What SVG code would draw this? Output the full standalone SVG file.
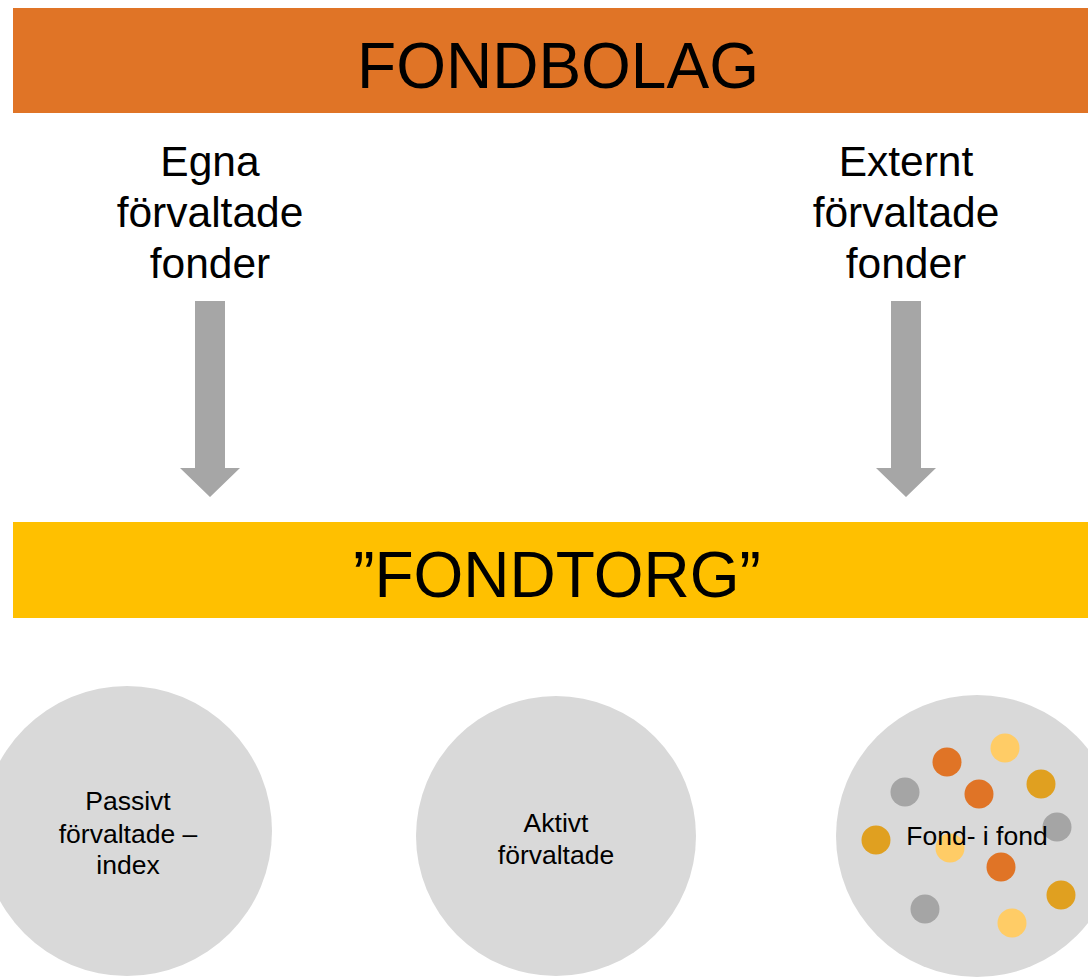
<svg xmlns="http://www.w3.org/2000/svg" width="1088" height="977" viewBox="0 0 1088 977">
<style>
text{font-family:"Liberation Sans",Arial,sans-serif;fill:#000;text-anchor:middle}
.big{font-size:64px}
.mid{font-size:42.5px}
.sm{font-size:26.5px}
.circ{fill:#D9D9D9}
.arrow{fill:#A6A6A6}
.o{fill:#E07426}.y{fill:#FFCC66}.g{fill:#E0A020}.s{fill:#A5A5A5}
</style>
<g id="fondbolag">
<rect x="13" y="8" width="1080" height="105" fill="#E07426"/>
<text class="big" x="558" y="88">FONDBOLAG</text>
</g>
<g id="egna">
<text class="mid" x="210" y="176">Egna</text>
<text class="mid" x="210" y="227">förvaltade</text>
<text class="mid" x="210" y="278">fonder</text>
</g>
<g id="externt">
<text class="mid" x="906" y="176">Externt</text>
<text class="mid" x="906" y="227">förvaltade</text>
<text class="mid" x="906" y="278">fonder</text>
</g>
<g id="connectors">
<polygon class="arrow" points="195,301 225,301 225,468 240,468 210,497 180,468 195,468"/>
<polygon class="arrow" points="891,301 921,301 921,468 936,468 906,497 876,468 891,468"/>
</g>
<g id="fondtorg">
<rect x="13" y="522" width="1080" height="96" fill="#FFC000"/>
<text class="big" x="557" y="597">”FONDTORG”</text>
</g>
<g id="passivt">
<circle class="circ" cx="127" cy="831" r="145"/>
<text class="sm" x="128" y="810">Passivt</text>
<text class="sm" x="128" y="843">förvaltade –</text>
<text class="sm" x="128" y="874">index</text>
</g>
<g id="aktivt">
<circle class="circ" cx="556" cy="836" r="140"/>
<text class="sm" x="556" y="832">Aktivt</text>
<text class="sm" x="556" y="864">förvaltade</text>
</g>
<g id="fondifond">
<circle class="circ" cx="977" cy="836" r="141"/>
<circle class="o" cx="947" cy="762" r="14.5"/>
<circle class="y" cx="1005" cy="748" r="14.5"/>
<circle class="s" cx="905" cy="792" r="14.5"/>
<circle class="o" cx="979" cy="794" r="14.5"/>
<circle class="g" cx="1041" cy="784" r="14.5"/>
<circle class="s" cx="1057" cy="827" r="14.5"/>
<circle class="g" cx="876" cy="840" r="14.5"/>
<circle class="y" cx="950" cy="848" r="14.5"/>
<circle class="o" cx="1001" cy="867" r="14.5"/>
<circle class="g" cx="1061" cy="895" r="14.5"/>
<circle class="s" cx="925" cy="909" r="14.5"/>
<circle class="y" cx="1012" cy="923" r="14.5"/>
<text class="sm" x="977" y="845">Fond- i fond</text>
</g>
</svg>
